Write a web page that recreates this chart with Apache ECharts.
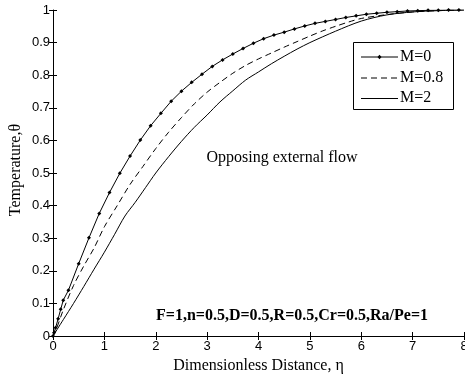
<!DOCTYPE html>
<html>
<head>
<meta charset="utf-8">
<script src="https://cdn.jsdelivr.net/npm/echarts@6/dist/echarts.min.js"></script>
<style>html,body{margin:0;padding:0;background:#fff;}#c{width:465px;height:375px;}</style>
</head>
<body>
<div id="c"></div>
<script>
// ---- data ----
const seriesNames = ['M=0', 'M=0.8', 'M=2'];

const eta0 = [0, 0.02, 0.05, 0.1, 0.15, 0.2, 0.3, 0.5, 0.7, 0.9, 1.1, 1.3, 1.5, 1.7, 1.9, 2.1, 2.3, 2.5, 2.7, 2.9, 3.1, 3.3, 3.5, 3.7, 3.9, 4.1, 4.3, 4.5, 4.7, 4.9, 5.1, 5.3, 5.5, 5.7, 5.9, 6.1, 6.3, 6.5, 6.7, 6.9, 7.1, 7.3, 7.5, 7.7, 7.9];
const theta0 = [0, 0.01, 0.025, 0.053, 0.082, 0.11, 0.14, 0.222, 0.301, 0.376, 0.44, 0.499, 0.552, 0.601, 0.645, 0.683, 0.720, 0.751, 0.778, 0.803, 0.827, 0.847, 0.865, 0.882, 0.898, 0.912, 0.923, 0.932, 0.942, 0.951, 0.959, 0.965, 0.971, 0.977, 0.982, 0.987, 0.990, 0.993, 0.995, 0.997, 0.998, 0.999, 0.9995, 1.0, 1.0];

const eta08 = [0, 0.05, 0.2, 0.4, 0.6, 0.8, 1.0, 1.25, 1.5, 1.75, 2.0, 2.25, 2.5, 2.75, 3.0, 3.25, 3.5, 3.75, 4.0, 4.25, 4.5, 4.75, 5.0, 5.25, 5.5, 5.75, 6.0, 6.5, 7.0, 7.5, 8.0];
const theta08 = [0, 0.015, 0.08, 0.155, 0.215, 0.27, 0.335, 0.4, 0.465, 0.52, 0.575, 0.625, 0.67, 0.712, 0.748, 0.778, 0.806, 0.83, 0.85, 0.868, 0.886, 0.903, 0.92, 0.936, 0.95, 0.963, 0.974, 0.986, 0.994, 0.998, 1.0];

const eta2 = [0, 0.2, 0.4, 0.6, 0.8, 1.0, 1.2, 1.4, 1.6, 1.8, 2.0, 2.25, 2.5, 2.75, 3.0, 3.25, 3.5, 3.75, 4.0, 4.25, 4.5, 4.75, 5.0, 5.5, 6.0, 6.5, 7.0, 7.5, 8.0];
const theta2 = [0, 0.05, 0.1, 0.152, 0.205, 0.257, 0.312, 0.368, 0.41, 0.455, 0.5, 0.55, 0.597, 0.64, 0.678, 0.718, 0.752, 0.785, 0.81, 0.835, 0.858, 0.88, 0.9, 0.935, 0.966, 0.985, 0.994, 0.998, 1.0];

const xTicks = [0, 1, 2, 3, 4, 5, 6, 7, 8];
const yTicks = [0, 0.1, 0.2, 0.3, 0.4, 0.5, 0.6, 0.7, 0.8, 0.9, 1];

const xLabel = 'Dimensionless Distance, η';
const yLabel = 'Temperature,θ';
const noteText = 'Opposing external flow';
const paramText = 'F=1,n=0.5,D=0.5,R=0.5,Cr=0.5,Ra/Pe=1';

// ---- build ----
function pairs(xs, ys) { return xs.map((x, i) => [x, ys[i]]); }

const serif = 'Liberation Serif';
const sans = 'Liberation Sans';
const G = { left: 53, right: 1, top: 10, bottom: 39, outerBoundsMode: 'none', containLabel: false };

const chart = echarts.init(document.getElementById('c'), null, { renderer: 'canvas' });

const axisCommon = {
  type: 'value',
  axisLine: { show: true, lineStyle: { color: '#000', width: 1 } },
  axisTick: { show: true, inside: true, length: 4, lineStyle: { color: '#000' } },
  splitLine: { show: false }
};

// legend drawn as graphic (box, line samples, labels)
const LG = { x: 353, y: 42, w: 100, h: 67, lx1: 361, lx2: 398, tx: 400, rows: [56.5, 77.5, 98] };
const legendStyles = [
  { dash: null, marker: true },
  { dash: [6, 4], marker: false },
  { dash: null, marker: false }
];
const legendGraphics = [
  { type: 'rect', shape: { x: LG.x + 0.5, y: LG.y + 0.5, width: LG.w, height: LG.h }, style: { fill: '#fff', stroke: '#000', lineWidth: 1 }, z: 10 }
];
seriesNames.forEach((name, i) => {
  const y = LG.rows[i];
  legendGraphics.push({ type: 'line', shape: { x1: LG.lx1, y1: y + 0.5, x2: LG.lx2, y2: y + 0.5 }, style: { stroke: '#000', lineWidth: 1, lineDash: legendStyles[i].dash }, z: 11 });
  if (legendStyles[i].marker) {
    const cx = (LG.lx1 + LG.lx2) / 2, cy = y + 0.5;
    legendGraphics.push({ type: 'polygon', shape: { points: [[cx, cy - 2.2], [cx + 2, cy], [cx, cy + 2.2], [cx - 2, cy]] }, style: { fill: '#000' }, z: 11 });
  }
  legendGraphics.push({ type: 'text', x: LG.tx, y: y, style: { text: name, fontFamily: serif, fontSize: 16, fill: '#000', textAlign: 'left', textVerticalAlign: 'middle' }, z: 11 });
});

chart.setOption({
  animation: false,
  backgroundColor: '#fff',
  grid: G,
  xAxis: [
    Object.assign({}, axisCommon, {
      min: xTicks[0], max: xTicks[xTicks.length - 1], interval: 1,
      axisLabel: { color: '#000', fontFamily: sans, fontSize: 13, margin: 4 }
    }),
    Object.assign({}, axisCommon, {
      position: 'top', min: xTicks[0], max: xTicks[xTicks.length - 1], interval: 1,
      axisLabel: { show: false }
    })
  ],
  yAxis: [
    Object.assign({}, axisCommon, {
      min: yTicks[0], max: yTicks[yTicks.length - 1], interval: 0.1,
      axisLabel: { color: '#000', fontFamily: sans, fontSize: 13, margin: 3 }
    }),
    Object.assign({}, axisCommon, {
      position: 'right', min: yTicks[0], max: yTicks[yTicks.length - 1], interval: 0.1,
      axisLine: { show: false },
      axisLabel: { show: false }
    })
  ],
  graphic: legendGraphics.concat([
    { type: 'text', x: 282, y: 158, style: { text: noteText, fontFamily: serif, fontSize: 16, fill: '#000', textAlign: 'center', textVerticalAlign: 'middle' } },
    { type: 'text', x: 292, y: 316, style: { text: paramText, fontFamily: serif, fontWeight: 'bold', fontSize: 16, fill: '#000', textAlign: 'center', textVerticalAlign: 'middle' } },
    { type: 'text', x: 258.5, y: 366, style: { text: xLabel, fontFamily: serif, fontSize: 16, fill: '#000', textAlign: 'center', textVerticalAlign: 'middle' } },
    { type: 'text', x: 16, y: 170, rotation: Math.PI / 2, style: { text: yLabel, fontFamily: serif, fontSize: 16, fill: '#000', textAlign: 'center', textVerticalAlign: 'middle' } }
  ]),
  series: [
    {
      name: seriesNames[0], type: 'line', data: pairs(eta0, theta0),
      symbol: 'diamond', symbolSize: 4, showSymbol: true,
      itemStyle: { color: '#000' },
      lineStyle: { color: '#000', width: 1 }
    },
    {
      name: seriesNames[1], type: 'line', data: pairs(eta08, theta08),
      symbol: 'none', smooth: 0.3,
      itemStyle: { color: '#000' },
      lineStyle: { color: '#000', width: 1, type: [6, 4] }
    },
    {
      name: seriesNames[2], type: 'line', data: pairs(eta2, theta2),
      symbol: 'none', smooth: 0.3,
      itemStyle: { color: '#000' },
      lineStyle: { color: '#000', width: 1 }
    }
  ]
});
</script>
</body>
</html>
